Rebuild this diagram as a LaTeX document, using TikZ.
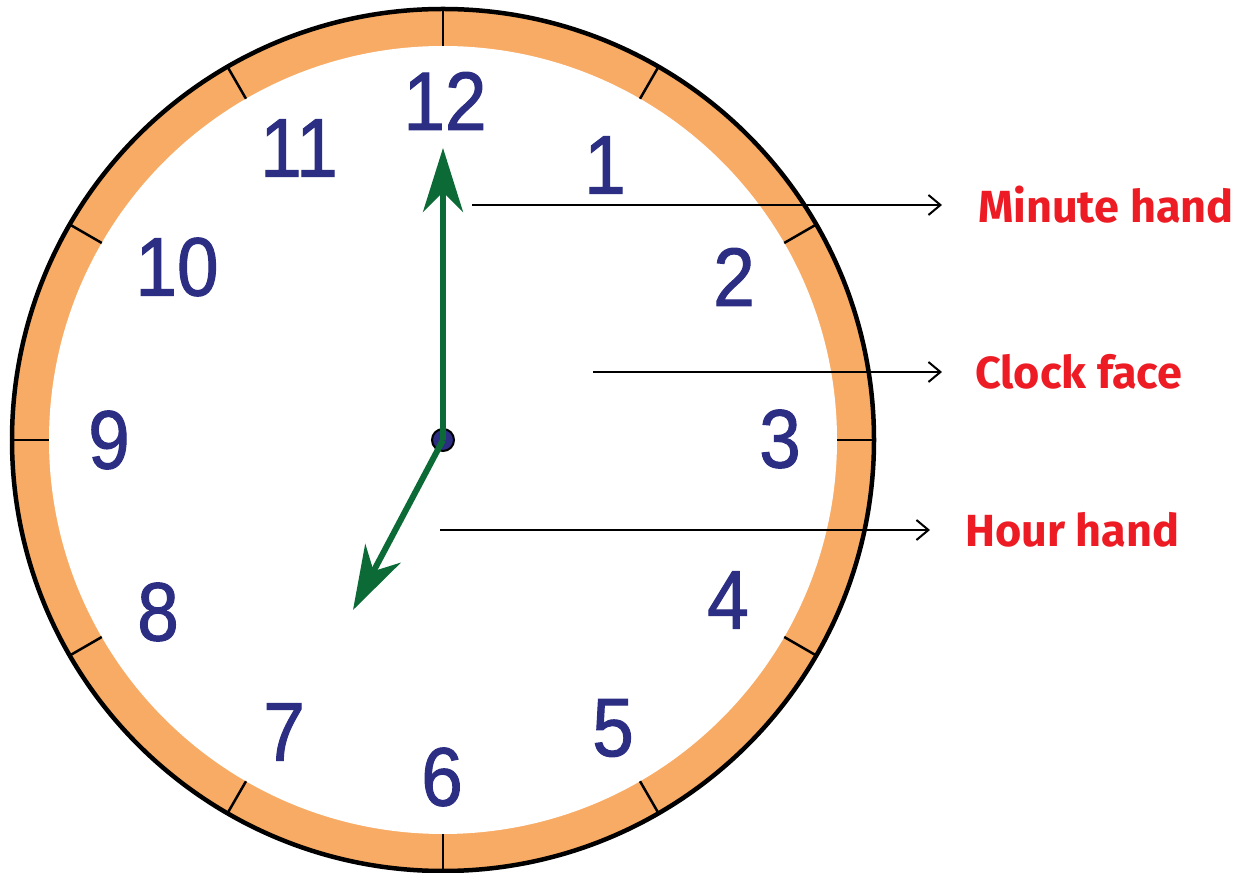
\documentclass[tikz,border=0pt]{standalone}
\usepackage{fontspec}
\newfontfamily\numfont[FakeStretch=0.9,FakeBold=1.2]{Liberation Sans}
\newfontfamily\lblfont{Fira Sans}
\usetikzlibrary{arrows.meta,calc}
\definecolor{ringorange}{HTML}{F8AB64}
\definecolor{dialblue}{HTML}{2B2E83}
\definecolor{handgreen}{HTML}{0B6A35}
\definecolor{tagred}{HTML}{ED1C24}
\tikzset{
  hand/.style={draw=handgreen,line width=6pt,
    -{Stealth[length=64pt,width=40pt,inset=20pt,fill=handgreen]}},
  pointer/.style={line width=2pt,-{Straight Barb[length=12pt,width=20pt]}},
  hourno/.style={text=dialblue,font=\numfont\fontsize{83}{83}\selectfont,inner sep=0pt},
  tag/.style={text=tagred,font=\lblfont\bfseries\fontsize{45}{45}\selectfont,
    inner sep=0pt,anchor=west}
}

\begin{document}
\begin{tikzpicture}[x=1pt,y=1pt]
  \useasboundingbox (0,0) rectangle (1241,872);
  \coordinate (C) at (443,432);
  \fill[ringorange] (C) circle (431);
  \fill[white] (C) circle (394);
  \foreach \a in {0,30,...,330}
    \draw[line width=2.5pt] ($(C)+(\a:394)$) -- ($(C)+(\a:431)$);
  \draw[line width=4.5pt] (C) circle (431);
  \foreach \h/\x/\y in {1/605/707,2/734/595,3/780/433,4/728/272,5/613/144,6/442/95,
      7/284/140,8/158/260,9/109/432,10/177/605,11/299/724,12/445/771}
    \node[hourno] (n\h) at (\x,\y) {\h};
  \node[circle,fill=dialblue,draw=black,line width=2pt,minimum size=22pt,inner sep=0pt] (hub) at (C) {};
  \coordinate (mtip) at (443,724);
  \coordinate (htip) at (353,262);
  \draw[hand] (hub.center) -- (mtip);
  \draw[hand] (hub.center) -- (htip);
  \coordinate (mstart) at (472,667);
  \coordinate (fstart) at (593,500);
  \coordinate (hstart) at (440,342);
  \node[tag] (mtag) at (978,667) {Minute hand};
  \node[tag] (ftag) at (975,500) {Clock face};
  \node[tag] (htag) at (965,342) {Hour hand};
  \draw[pointer,shorten >=36pt] (mstart) -- (mtag.west);
  \draw[pointer,shorten >=33pt] (fstart) -- (ftag.west);
  \draw[pointer,shorten >=35pt] (hstart) -- (htag.west);
\end{tikzpicture}
\end{document}
